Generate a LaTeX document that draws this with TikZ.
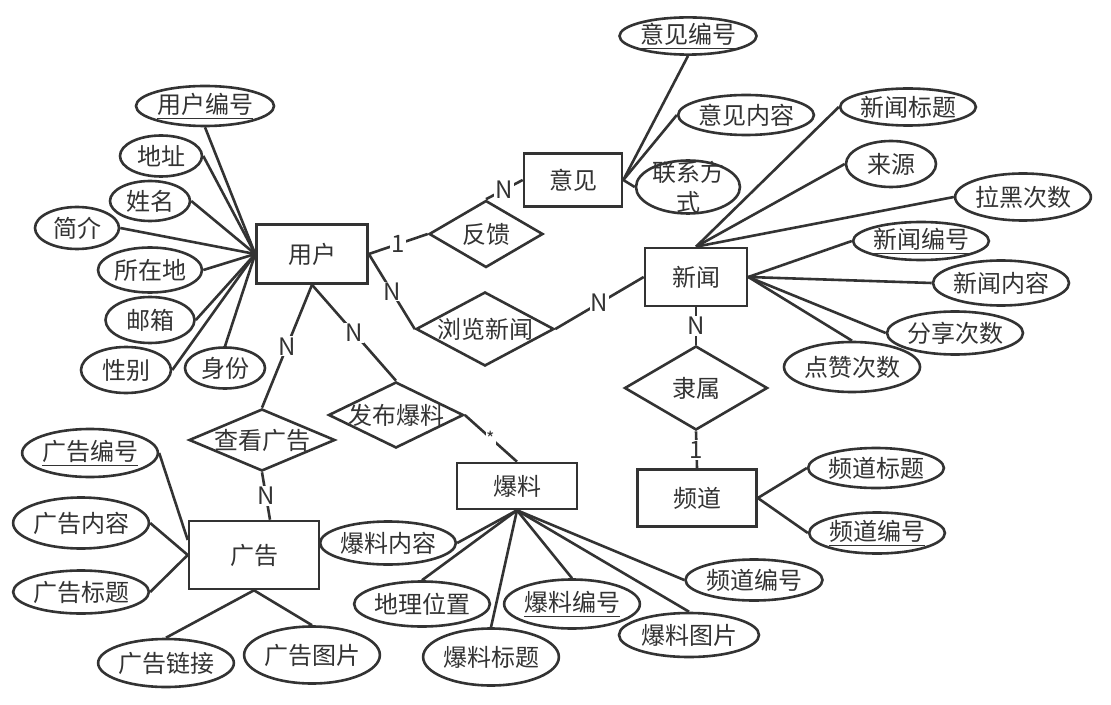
\documentclass[tikz,border=0pt]{standalone}
\usepackage{fontspec}
\newfontfamily\cjk{Noto Sans CJK SC}
\usetikzlibrary{shapes.geometric}
\definecolor{ink}{HTML}{333333}
\begin{document}
\begin{tikzpicture}[x=0.5pt,y=-0.5pt,font=\cjk\fontsize{12}{15}\selectfont,text=ink,
ent/.style={draw=ink,line width=1.3pt,rectangle,inner sep=0pt},
rel/.style={draw=ink,line width=1.3pt,diamond,inner sep=0pt},
attr/.style={draw=ink,line width=1.3pt,ellipse,inner sep=0pt},
link/.style={draw=ink,line width=1.3pt},
card/.style={fill=white,inner sep=0.6pt}]
\useasboundingbox (0,0) rectangle (1111,705);
\node[ent,minimum width=55.5pt,minimum height=29.5pt](yh)at(312,254){用户};
\node[ent,minimum width=49pt,minimum height=26.5pt](yj)at(573,180){意见};
\node[ent,minimum width=51pt,minimum height=29pt](xw)at(696,277){新闻};
\node[ent,minimum width=65pt,minimum height=34pt](gg)at(254,555){广告};
\node[ent,minimum width=60pt,minimum height=23pt](bl)at(517,486){爆料};
\node[ent,minimum width=59.5pt,minimum height=28.5pt](pd)at(697,498){频道};
\node[rel,minimum width=57pt,minimum height=33.5pt,label=center:反馈](fk)at(486,234){};
\node[rel,minimum width=69pt,minimum height=37pt,label=center:浏览新闻](llxw)at(485,329){};
\node[rel,minimum width=73pt,minimum height=31pt,label=center:查看广告](ckgg)at(262,440){};
\node[rel,minimum width=67.5pt,minimum height=33pt,label=center:发布爆料](fbbl)at(396,415){};
\node[rel,minimum width=71.5pt,minimum height=42pt,label=center:隶属](ls)at(696,388){};
\node[attr,minimum width=69pt,minimum height=20pt](yhbh)at(205,106){\underline{用户编号}};
\node[attr,minimum width=41pt,minimum height=20.5pt](dz)at(161,156){地址};
\node[attr,minimum width=40pt,minimum height=20pt](xm)at(150,201){姓名};
\node[attr,minimum width=42pt,minimum height=21pt](jj)at(77,228){简介};
\node[attr,minimum width=52pt,minimum height=22.5pt](szd)at(150,270){所在地};
\node[attr,minimum width=44.5pt,minimum height=23pt](yx)at(150,320){邮箱};
\node[attr,minimum width=45pt,minimum height=23pt](xb)at(126,370){性别};
\node[attr,minimum width=40pt,minimum height=20.5pt](sf)at(225,368){身份};
\node[attr,minimum width=68.5pt,minimum height=17.5pt](yjbh)at(688,36){\underline{意见编号}};
\node[attr,minimum width=66pt,minimum height=20pt](yjnr)at(746,115){意见内容};
\node[attr,minimum width=52pt,minimum height=26.5pt,label={[align=center]center:联系方\\式}](lxfs)at(688,187){};
\node[attr,minimum width=64pt,minimum height=18.5pt](xwbt)at(908,107){新闻标题};
\node[attr,minimum width=45pt,minimum height=23pt](ly)at(891,164){来源};
\node[attr,minimum width=67pt,minimum height=23.5pt](lhcs)at(1023,197){拉黑次数};
\node[attr,minimum width=64pt,minimum height=19pt](xwbh)at(921,241){\underline{新闻编号}};
\node[attr,minimum width=68pt,minimum height=22.5pt](xwnr)at(1001,283){新闻内容};
\node[attr,minimum width=68pt,minimum height=21.5pt](fxcs)at(955,333){分享次数};
\node[attr,minimum width=68pt,minimum height=25pt](dzcs)at(852,367){点赞次数};
\node[attr,minimum width=64pt,minimum height=24pt](ggbh)at(90,453){\underline{广告编号}};
\node[attr,minimum width=65pt,minimum height=25.5pt](ggnr)at(81,523){广告内容};
\node[attr,minimum width=65.5pt,minimum height=21.5pt](ggbt)at(81,592){广告标题};
\node[attr,minimum width=63pt,minimum height=24pt](gglj)at(166,663){广告链接};
\node[attr,minimum width=65pt,minimum height=28.5pt](ggtp)at(312,655){广告图片};
\node[attr,minimum width=65pt,minimum height=21.5pt](blnr)at(388,543){爆料内容};
\node[attr,minimum width=66.5pt,minimum height=22.5pt](dlwz)at(422,604){地理位置};
\node[attr,minimum width=63.5pt,minimum height=28.5pt](blbt)at(491,657){爆料标题};
\node[attr,minimum width=65pt,minimum height=24.5pt](blbh)at(572,604){\underline{爆料编号}};
\node[attr,minimum width=70pt,minimum height=22pt](bltp)at(689,635){爆料图片};
\node[attr,minimum width=68.5pt,minimum height=20.5pt](blpd)at(754,580){频道编号};
\node[attr,minimum width=67.5pt,minimum height=20pt](pdbt)at(876,468){频道标题};
\node[attr,minimum width=66pt,minimum height=20.5pt](pdbh)at(877,533){\underline{频道编号}};
\draw[link](yh.west)--(yhbh.south);
\foreach \a in {dz,xm,jj,szd,yx,xb}\draw[link](yh.west)--(\a.east);
\draw[link](yh.west)--(sf.north);
\draw[link](yj.east)--(yjbh.south);
\foreach \a in {yjnr,lxfs}\draw[link](yj.east)--(\a.west);
\foreach \a in {xwbt,ly,lhcs}\draw[link](xw.north)--(\a.west);
\foreach \a in {xwbh,xwnr,fxcs}\draw[link](xw.east)--(\a.west);
\draw[link](xw.east)--(dzcs.north);
\draw[link]([yshift=7.5pt]gg.west)--(ggbh.east);
\foreach \a in {ggnr,ggbt}\draw[link](gg.west)--(\a.east);
\foreach \a in {gglj,ggtp}\draw[link](gg.south)--(\a.north);
\draw[link](bl.south)--(blnr.east);
\foreach \a in {dlwz,blbt,blbh,bltp}\draw[link](bl.south)--(\a.north);
\draw[link](bl.south)--(blpd.west);
\foreach \a in {pdbt,pdbh}\draw[link](pd.east)--(\a.west);
\draw[link](yh.east)--node[card]{1}(fk.west);
\draw[link](fk.north)--node[card]{N}(yj.west);
\draw[link](yh.east)--node[card]{N}(llxw.west);
\draw[link](llxw.east)--node[card]{N}(xw.west);
\draw[link](xw.south)--node[card]{N}(ls.north);
\draw[link](ls.south)--node[card]{1}(pd.north);
\draw[link](yh.south)--node[card]{N}(ckgg.north);
\draw[link](yh.south)--node[card]{N}(fbbl.north);
\draw[link](ckgg.south)--node[card]{N}([xshift=8pt]gg.north);
\draw[link](fbbl.east)--node[card,font=\cjk\fontsize{9}{9}\selectfont]{*}(bl.north);
\end{tikzpicture}
\end{document}
